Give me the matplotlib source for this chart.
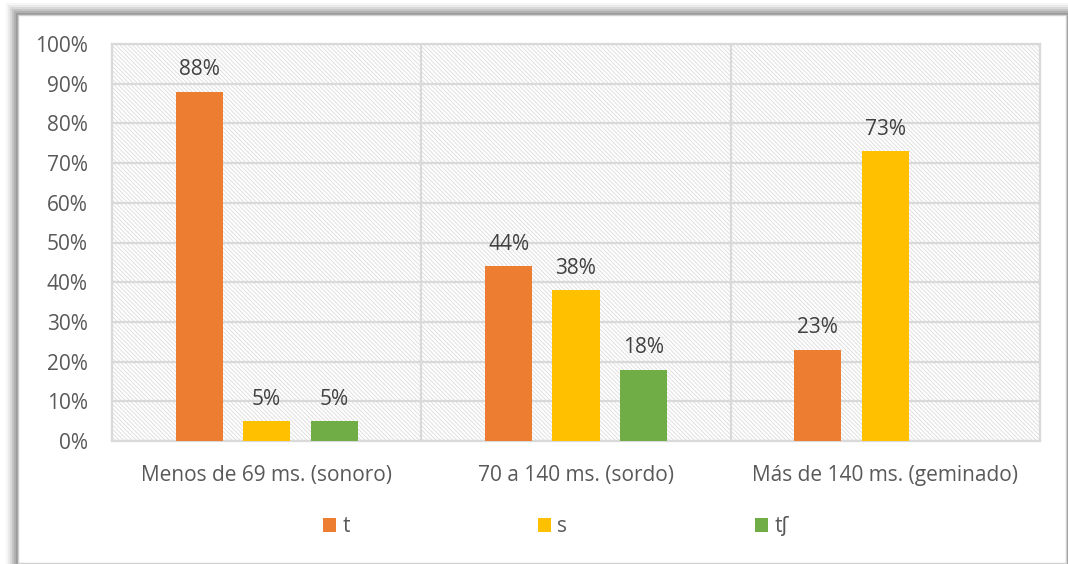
import matplotlib.pyplot as plt
from matplotlib.patches import Rectangle
import numpy as np

# data
categories = ["Menos de 69 ms. (sonoro)", "70 a 140 ms. (sordo)", "Más de 140 ms. (geminado)"]
series = ["t", "s", "tʃ"]
values_t = [88, 44, 23]
values_s = [5, 38, 73]
values_tsh = [5, 18, 0]
colors = ["#ED7D31", "#FFC000", "#70AD47"]

plt.rcParams['font.family'] = ['Open Sans', 'DejaVu Sans']
plt.rcParams['hatch.color'] = '#e0e0e0'
plt.rcParams['hatch.linewidth'] = 0.7

fig = plt.figure(figsize=(10.68, 5.64), dpi=100)
W, H = 1068, 564

# shadow + white panel
for i, a in enumerate([0.05, 0.08, 0.12, 0.16, 0.2, 0.25]):
    off = 12 - i * 2
    fig.patches.append(Rectangle(((18 - off) / W, 0), (1050 + off) / W, (549 + off) / H,
                                 transform=fig.transFigure, facecolor='#606060', alpha=a,
                                 edgecolor='none', zorder=0))
fig.patches.append(Rectangle((18 / W, 1 / H), 1048 / W, 548 / H, transform=fig.transFigure,
                             facecolor='white', edgecolor='#d0d0d0', linewidth=1, zorder=1))

ax = fig.add_axes([112 / W, (H - 441) / H, (1040 - 112) / W, (441 - 44) / H])
ax.set_zorder(2)
ax.patch.set_facecolor('white')
ax.patch.set_hatch('\\' * 8)
ax.patch.set_edgecolor('#e0e0e0')

x = np.arange(len(categories))
bw = 0.152
gap = 0.218
fs = 15
for k, (name, vals) in enumerate(zip(series, [values_t, values_s, values_tsh])):
    pos = x + (k - 1) * gap
    ax.bar(pos, vals, width=bw, color=colors[k], label=name, zorder=3)
    for p, v in zip(pos, vals):
        if v > 0:
            ax.text(p, v + 2.9, f"{v}%", ha='center', va='bottom', fontsize=fs,
                    color='#404040', zorder=4)

ax.set_xlim(-0.5, 2.5)
ax.set_ylim(0, 100)
ax.set_yticks(np.arange(0, 101, 10))
ax.set_yticklabels([f"{v}%" for v in range(0, 101, 10)])
ax.set_xticks(x)
ax.set_xticklabels(categories)
ax.tick_params(axis='both', length=0, labelsize=fs, labelcolor='#595959')
ax.tick_params(axis='x', pad=17)
ax.tick_params(axis='y', pad=17.5)
ax.grid(axis='y', color='#d9d9d9', linewidth=1.6, zorder=1)
for b in [0.5, 1.5]:
    ax.axvline(b, color='#d9d9d9', linewidth=1.6, zorder=1)
for s in ax.spines.values():
    s.set_color('#d9d9d9')
    s.set_linewidth(1.6)
ax.set_axisbelow(True)

leg = ax.legend(loc='center', bbox_to_anchor=((556 - 112) / 928, (H - 527 - (H - 441)) / (441 - 44)),
                ncol=3, frameon=False, fontsize=fs, handlelength=0.65, handleheight=0.65,
                handletextpad=0.3, columnspacing=9.0, labelcolor='#595959')

fig.savefig("out.png", dpi=100)
